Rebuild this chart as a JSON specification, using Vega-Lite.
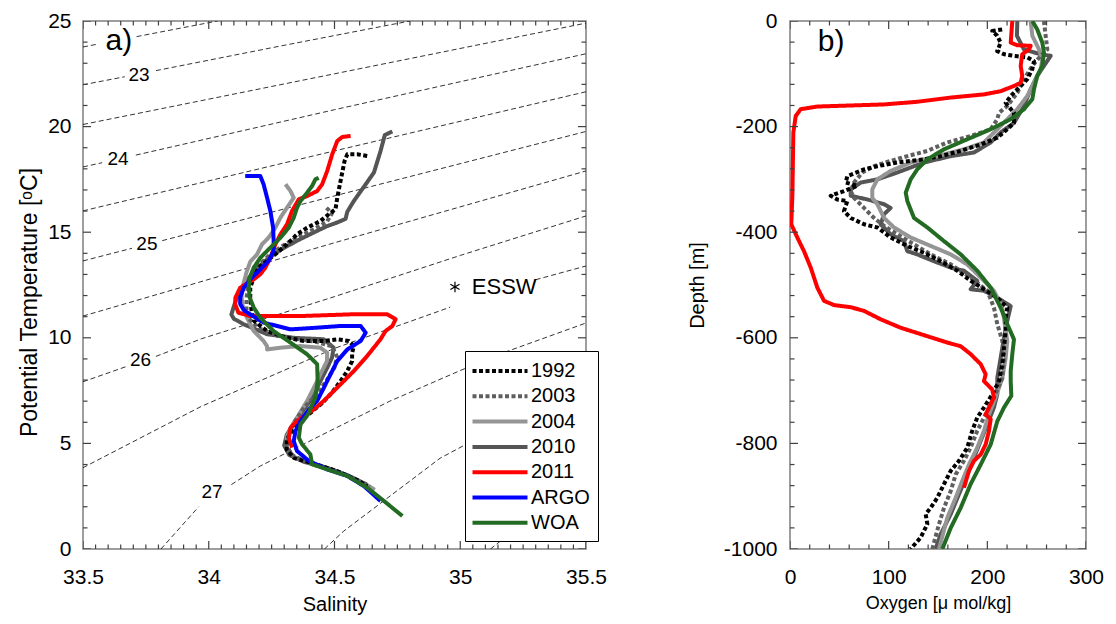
{
"$schema": "https://vega.github.io/schema/vega-lite/v6.json",
"background": "white",
"padding": {"left": 17, "top": 9, "right": 5, "bottom": 5},
"config": {
  "font": "Liberation Sans",
  "view": {"stroke": "#7f7f7f", "strokeWidth": 1.5},
  "axis": {"labelFont": "Liberation Sans", "labelFontSize": 21, "labelColor": "black", "titleFont": "Liberation Sans", "titleFontSize": 20, "titleFontWeight": "normal", "titleColor": "black", "domain": false, "grid": false, "ticks": false, "labelFlush": false, "labelOverlap": false, "labelBound": false}
},
"datasets": {
"tkS": [{"v":33.5,"k":"major"},{"v":33.55,"k":"minor"},{"v":33.6,"k":"minor"},{"v":33.65,"k":"minor"},{"v":33.7,"k":"minor"},{"v":33.75,"k":"minor"},{"v":33.8,"k":"minor"},{"v":33.85,"k":"minor"},{"v":33.9,"k":"minor"},{"v":33.95,"k":"minor"},{"v":34,"k":"major"},{"v":34.05,"k":"minor"},{"v":34.1,"k":"minor"},{"v":34.15,"k":"minor"},{"v":34.2,"k":"minor"},{"v":34.25,"k":"minor"},{"v":34.3,"k":"minor"},{"v":34.35,"k":"minor"},{"v":34.4,"k":"minor"},{"v":34.45,"k":"minor"},{"v":34.5,"k":"major"},{"v":34.55,"k":"minor"},{"v":34.6,"k":"minor"},{"v":34.65,"k":"minor"},{"v":34.7,"k":"minor"},{"v":34.75,"k":"minor"},{"v":34.8,"k":"minor"},{"v":34.85,"k":"minor"},{"v":34.9,"k":"minor"},{"v":34.95,"k":"minor"},{"v":35,"k":"major"},{"v":35.05,"k":"minor"},{"v":35.1,"k":"minor"},{"v":35.15,"k":"minor"},{"v":35.2,"k":"minor"},{"v":35.25,"k":"minor"},{"v":35.3,"k":"minor"},{"v":35.35,"k":"minor"},{"v":35.4,"k":"minor"},{"v":35.45,"k":"minor"},{"v":35.5,"k":"major"}],
"tkT": [{"v":0,"k":"major"},{"v":1,"k":"minor"},{"v":2,"k":"minor"},{"v":3,"k":"minor"},{"v":4,"k":"minor"},{"v":5,"k":"major"},{"v":6,"k":"minor"},{"v":7,"k":"minor"},{"v":8,"k":"minor"},{"v":9,"k":"minor"},{"v":10,"k":"major"},{"v":11,"k":"minor"},{"v":12,"k":"minor"},{"v":13,"k":"minor"},{"v":14,"k":"minor"},{"v":15,"k":"major"},{"v":16,"k":"minor"},{"v":17,"k":"minor"},{"v":18,"k":"minor"},{"v":19,"k":"minor"},{"v":20,"k":"major"},{"v":21,"k":"minor"},{"v":22,"k":"minor"},{"v":23,"k":"minor"},{"v":24,"k":"minor"},{"v":25,"k":"major"}],
"tkO": [{"v":0,"k":"major"},{"v":20,"k":"minor"},{"v":40,"k":"minor"},{"v":60,"k":"minor"},{"v":80,"k":"minor"},{"v":100,"k":"major"},{"v":120,"k":"minor"},{"v":140,"k":"minor"},{"v":160,"k":"minor"},{"v":180,"k":"minor"},{"v":200,"k":"major"},{"v":220,"k":"minor"},{"v":240,"k":"minor"},{"v":260,"k":"minor"},{"v":280,"k":"minor"},{"v":300,"k":"major"}],
"tkD": [{"v":-1000,"k":"major"},{"v":-960,"k":"minor"},{"v":-920,"k":"minor"},{"v":-880,"k":"minor"},{"v":-840,"k":"minor"},{"v":-800,"k":"major"},{"v":-760,"k":"minor"},{"v":-720,"k":"minor"},{"v":-680,"k":"minor"},{"v":-640,"k":"minor"},{"v":-600,"k":"major"},{"v":-560,"k":"minor"},{"v":-520,"k":"minor"},{"v":-480,"k":"minor"},{"v":-440,"k":"minor"},{"v":-400,"k":"major"},{"v":-360,"k":"minor"},{"v":-320,"k":"minor"},{"v":-280,"k":"minor"},{"v":-240,"k":"minor"},{"v":-200,"k":"major"},{"v":-160,"k":"minor"},{"v":-120,"k":"minor"},{"v":-80,"k":"minor"},{"v":-40,"k":"minor"},{"v":0,"k":"major"}],
"iso": [
{"seg":"L1a","i":1,"S":33.5,"T":23.77},{"seg":"L1a","i":2,"S":33.552,"T":23.89},
{"seg":"L1b","i":1,"S":33.713,"T":24.26},{"seg":"L1b","i":2,"S":34.035,"T":25.0},
{"seg":"L2a","i":1,"S":33.5,"T":21.98},{"seg":"L2a","i":2,"S":33.666,"T":22.36},
{"seg":"L2b","i":1,"S":33.79,"T":22.65},{"seg":"L2b","i":2,"S":34.3,"T":23.85},{"seg":"L2b","i":3,"S":34.8,"T":25.0},
{"seg":"L3","i":1,"S":33.5,"T":20.1},{"seg":"L3","i":2,"S":34.5,"T":22.5},{"seg":"L3","i":3,"S":35.5,"T":24.9},
{"seg":"L4a","i":1,"S":33.5,"T":18.09},{"seg":"L4a","i":2,"S":33.576,"T":18.29},
{"seg":"L4b","i":1,"S":33.71,"T":18.65},{"seg":"L4b","i":2,"S":34.5,"T":20.8},{"seg":"L4b","i":3,"S":35.5,"T":23.45},
{"seg":"L5","i":1,"S":33.5,"T":16.01},{"seg":"L5","i":2,"S":34.5,"T":18.85},{"seg":"L5","i":3,"S":35.5,"T":21.65},
{"seg":"L6a","i":1,"S":33.5,"T":13.64},{"seg":"L6a","i":2,"S":33.695,"T":14.24},
{"seg":"L6b","i":1,"S":33.815,"T":14.6},{"seg":"L6b","i":2,"S":34.5,"T":16.72},{"seg":"L6b","i":3,"S":35.5,"T":19.77},
{"seg":"L7","i":1,"S":33.5,"T":11.03},{"seg":"L7","i":2,"S":34.5,"T":14.5},{"seg":"L7","i":3,"S":35.5,"T":17.9},
{"seg":"L8a","i":1,"S":33.5,"T":7.92},{"seg":"L8a","i":2,"S":33.675,"T":8.65},
{"seg":"L8b","i":1,"S":33.79,"T":9.12},{"seg":"L8b","i":2,"S":33.97,"T":9.95},{"seg":"L8b","i":3,"S":34.5,"T":11.95},{"seg":"L8b","i":4,"S":35.0,"T":13.9},{"seg":"L8b","i":5,"S":35.5,"T":15.77},
{"seg":"L9a","i":1,"S":33.5,"T":3.85},{"seg":"L9a","i":2,"S":33.97,"T":6.75},{"seg":"L9a","i":3,"S":34.5,"T":9.5},{"seg":"L9a","i":4,"S":34.96,"T":11.45},
{"seg":"L9b","i":1,"S":35.3,"T":12.75},{"seg":"L9b","i":2,"S":35.5,"T":13.4},
{"seg":"L10a","i":1,"S":33.81,"T":0},{"seg":"L10a","i":2,"S":33.96,"T":2.0},
{"seg":"L10b","i":1,"S":34.09,"T":3.05},{"seg":"L10b","i":2,"S":34.205,"T":3.93},{"seg":"L10b","i":3,"S":34.5,"T":5.7},{"seg":"L10b","i":4,"S":34.72,"T":7.0},{"seg":"L10b","i":5,"S":35.0,"T":8.45},{"seg":"L10b","i":6,"S":35.15,"T":9.2},{"seg":"L10b","i":7,"S":35.5,"T":10.7},
{"seg":"L11","i":1,"S":34.46,"T":0},{"seg":"L11","i":2,"S":34.537,"T":0.85},{"seg":"L11","i":3,"S":34.92,"T":4.3},{"seg":"L11","i":4,"S":35.03,"T":5.0},{"seg":"L11","i":5,"S":35.5,"T":8.1},
{"seg":"L12","i":1,"S":35.12,"T":0},{"seg":"L12","i":2,"S":35.5,"T":3.6}
],
"tslab": [
{"t":"23","S":33.723,"T":22.44},{"t":"24","S":33.639,"T":18.48},{"t":"25","S":33.754,"T":14.45},{"t":"26","S":33.729,"T":8.93},{"t":"27","S":34.013,"T":2.7}
],
"pa": [{"t":"a)","S":33.643,"T":24.05}],
"ess": [{"t":"ESSW","S":34.979,"T":12.41,"S2":35.046}],
"pb": [{"t":"b)","O":41.6,"D":-39.8}],
"ts": [
{"n":"2010","i":1,"S":34.73,"T":19.77},{"n":"2010","i":2,"S":34.70,"T":19.6},{"n":"2010","i":3,"S":34.683,"T":18.84},{"n":"2010","i":4,"S":34.657,"T":17.83},{"n":"2010","i":5,"S":34.617,"T":17.15},{"n":"2010","i":6,"S":34.577,"T":16.48},{"n":"2010","i":7,"S":34.551,"T":15.97},{"n":"2010","i":8,"S":34.544,"T":15.63},{"n":"2010","i":9,"S":34.511,"T":15.46},{"n":"2010","i":10,"S":34.471,"T":15.29},{"n":"2010","i":11,"S":34.42,"T":15.0},{"n":"2010","i":12,"S":34.36,"T":14.65},{"n":"2010","i":13,"S":34.29,"T":14.2},{"n":"2010","i":14,"S":34.23,"T":13.7},{"n":"2010","i":15,"S":34.18,"T":13.15},{"n":"2010","i":16,"S":34.14,"T":12.55},{"n":"2010","i":17,"S":34.115,"T":12.0},{"n":"2010","i":18,"S":34.1,"T":11.5},{"n":"2010","i":19,"S":34.09,"T":11.1},{"n":"2010","i":20,"S":34.1,"T":10.9},{"n":"2010","i":21,"S":34.139,"T":10.64},{"n":"2010","i":22,"S":34.232,"T":10.17},{"n":"2010","i":23,"S":34.338,"T":10.0},{"n":"2010","i":24,"S":34.457,"T":9.93},{"n":"2010","i":25,"S":34.497,"T":9.53},{"n":"2010","i":26,"S":34.49,"T":9.06},{"n":"2010","i":27,"S":34.471,"T":8.58},{"n":"2010","i":28,"S":34.444,"T":7.95},{"n":"2010","i":29,"S":34.418,"T":7.32},{"n":"2010","i":30,"S":34.385,"T":6.7},{"n":"2010","i":31,"S":34.34,"T":6.0},{"n":"2010","i":32,"S":34.31,"T":5.4},{"n":"2010","i":33,"S":34.3,"T":4.9},{"n":"2010","i":34,"S":34.32,"T":4.45},{"n":"2010","i":35,"S":34.38,"T":4.12},{"n":"2010","i":36,"S":34.46,"T":3.87},{"n":"2010","i":37,"S":34.54,"T":3.54},{"n":"2010","i":38,"S":34.6,"T":3.15},{"n":"2010","i":39,"S":34.65,"T":2.85},
{"n":"2004","i":1,"S":34.305,"T":17.27},{"n":"2004","i":2,"S":34.325,"T":16.95},{"n":"2004","i":3,"S":34.338,"T":16.63},{"n":"2004","i":4,"S":34.311,"T":16.16},{"n":"2004","i":5,"S":34.285,"T":15.69},{"n":"2004","i":6,"S":34.265,"T":15.21},{"n":"2004","i":7,"S":34.238,"T":14.74},{"n":"2004","i":8,"S":34.212,"T":14.43},{"n":"2004","i":9,"S":34.192,"T":13.95},{"n":"2004","i":10,"S":34.165,"T":13.6},{"n":"2004","i":11,"S":34.15,"T":13.1},{"n":"2004","i":12,"S":34.139,"T":12.6},{"n":"2004","i":13,"S":34.13,"T":12.0},{"n":"2004","i":14,"S":34.135,"T":11.5},{"n":"2004","i":15,"S":34.152,"T":10.95},{"n":"2004","i":16,"S":34.179,"T":10.32},{"n":"2004","i":17,"S":34.218,"T":9.85},{"n":"2004","i":18,"S":34.232,"T":9.6},{"n":"2004","i":19,"S":34.232,"T":9.45},{"n":"2004","i":20,"S":34.285,"T":9.53},{"n":"2004","i":21,"S":34.365,"T":9.61},{"n":"2004","i":22,"S":34.444,"T":9.53},{"n":"2004","i":23,"S":34.471,"T":9.29},{"n":"2004","i":24,"S":34.47,"T":8.9},{"n":"2004","i":25,"S":34.444,"T":8.27},{"n":"2004","i":26,"S":34.418,"T":7.64},{"n":"2004","i":27,"S":34.391,"T":7.01},{"n":"2004","i":28,"S":34.36,"T":6.4},{"n":"2004","i":29,"S":34.33,"T":5.8},{"n":"2004","i":30,"S":34.31,"T":5.3},{"n":"2004","i":31,"S":34.31,"T":4.8},{"n":"2004","i":32,"S":34.34,"T":4.35},{"n":"2004","i":33,"S":34.41,"T":4.05},{"n":"2004","i":34,"S":34.48,"T":3.8},{"n":"2004","i":35,"S":34.55,"T":3.5},{"n":"2004","i":36,"S":34.62,"T":3.1},{"n":"2004","i":37,"S":34.66,"T":2.8},
{"n":"2003","i":1,"S":34.468,"T":16.15},{"n":"2003","i":2,"S":34.49,"T":15.9},{"n":"2003","i":3,"S":34.47,"T":15.5},{"n":"2003","i":4,"S":34.42,"T":15.15},{"n":"2003","i":5,"S":34.36,"T":14.8},{"n":"2003","i":6,"S":34.3,"T":14.4},{"n":"2003","i":7,"S":34.24,"T":13.9},{"n":"2003","i":8,"S":34.2,"T":13.45},{"n":"2003","i":9,"S":34.17,"T":12.95},{"n":"2003","i":10,"S":34.155,"T":12.4},{"n":"2003","i":11,"S":34.15,"T":11.85},{"n":"2003","i":12,"S":34.15,"T":11.3},{"n":"2003","i":13,"S":34.16,"T":10.9},{"n":"2003","i":14,"S":34.2,"T":10.45},{"n":"2003","i":15,"S":34.27,"T":10.1},{"n":"2003","i":16,"S":34.35,"T":9.95},{"n":"2003","i":17,"S":34.43,"T":9.8},{"n":"2003","i":18,"S":34.49,"T":9.6},{"n":"2003","i":19,"S":34.51,"T":9.1},{"n":"2003","i":20,"S":34.5,"T":8.6},{"n":"2003","i":21,"S":34.47,"T":8.0},{"n":"2003","i":22,"S":34.43,"T":7.35},{"n":"2003","i":23,"S":34.38,"T":6.7},{"n":"2003","i":24,"S":34.34,"T":6.0},{"n":"2003","i":25,"S":34.32,"T":5.4},{"n":"2003","i":26,"S":34.31,"T":4.9},{"n":"2003","i":27,"S":34.33,"T":4.45},{"n":"2003","i":28,"S":34.39,"T":4.1},{"n":"2003","i":29,"S":34.47,"T":3.85},{"n":"2003","i":30,"S":34.55,"T":3.5},{"n":"2003","i":31,"S":34.62,"T":3.1},{"n":"2003","i":32,"S":34.64,"T":2.95},
{"n":"1992","i":1,"S":34.63,"T":18.61},{"n":"1992","i":2,"S":34.59,"T":18.69},{"n":"1992","i":3,"S":34.551,"T":18.69},{"n":"1992","i":4,"S":34.54,"T":18.37},{"n":"1992","i":5,"S":34.524,"T":17.42},{"n":"1992","i":6,"S":34.511,"T":16.63},{"n":"1992","i":7,"S":34.504,"T":16.08},{"n":"1992","i":8,"S":34.477,"T":15.85},{"n":"1992","i":9,"S":34.444,"T":15.53},{"n":"1992","i":10,"S":34.391,"T":15.21},{"n":"1992","i":11,"S":34.351,"T":14.9},{"n":"1992","i":12,"S":34.311,"T":14.43},{"n":"1992","i":13,"S":34.272,"T":14.03},{"n":"1992","i":14,"S":34.232,"T":13.64},{"n":"1992","i":15,"S":34.198,"T":13.32},{"n":"1992","i":16,"S":34.179,"T":12.85},{"n":"1992","i":17,"S":34.165,"T":12.37},{"n":"1992","i":18,"S":34.165,"T":11.9},{"n":"1992","i":19,"S":34.17,"T":11.3},{"n":"1992","i":20,"S":34.18,"T":10.8},{"n":"1992","i":21,"S":34.232,"T":10.32},{"n":"1992","i":22,"S":34.311,"T":10.0},{"n":"1992","i":23,"S":34.378,"T":9.85},{"n":"1992","i":24,"S":34.457,"T":9.85},{"n":"1992","i":25,"S":34.511,"T":9.93},{"n":"1992","i":26,"S":34.557,"T":9.85},{"n":"1992","i":27,"S":34.577,"T":9.61},{"n":"1992","i":28,"S":34.57,"T":9.29},{"n":"1992","i":29,"S":34.57,"T":8.9},{"n":"1992","i":30,"S":34.551,"T":8.43},{"n":"1992","i":31,"S":34.524,"T":7.95},{"n":"1992","i":32,"S":34.49,"T":7.4},{"n":"1992","i":33,"S":34.45,"T":6.9},{"n":"1992","i":34,"S":34.39,"T":6.3},{"n":"1992","i":35,"S":34.34,"T":5.7},{"n":"1992","i":36,"S":34.31,"T":5.2},{"n":"1992","i":37,"S":34.31,"T":4.7},{"n":"1992","i":38,"S":34.34,"T":4.3},{"n":"1992","i":39,"S":34.43,"T":4.0},{"n":"1992","i":40,"S":34.51,"T":3.69},{"n":"1992","i":41,"S":34.6,"T":3.22},{"n":"1992","i":42,"S":34.63,"T":2.95},
{"n":"2011","i":1,"S":34.564,"T":19.555},{"n":"2011","i":2,"S":34.531,"T":19.51},{"n":"2011","i":3,"S":34.511,"T":19.32},{"n":"2011","i":4,"S":34.491,"T":18.69},{"n":"2011","i":5,"S":34.471,"T":17.9},{"n":"2011","i":6,"S":34.451,"T":17.27},{"n":"2011","i":7,"S":34.431,"T":16.95},{"n":"2011","i":8,"S":34.391,"T":16.71},{"n":"2011","i":9,"S":34.358,"T":16.56},{"n":"2011","i":10,"S":34.331,"T":16.0},{"n":"2011","i":11,"S":34.311,"T":15.37},{"n":"2011","i":12,"S":34.285,"T":14.9},{"n":"2011","i":13,"S":34.265,"T":14.43},{"n":"2011","i":14,"S":34.245,"T":13.79},{"n":"2011","i":15,"S":34.225,"T":13.32},{"n":"2011","i":16,"S":34.205,"T":13.01},{"n":"2011","i":17,"S":34.179,"T":12.77},{"n":"2011","i":18,"S":34.125,"T":12.37},{"n":"2011","i":19,"S":34.106,"T":11.9},{"n":"2011","i":20,"S":34.105,"T":11.59},{"n":"2011","i":21,"S":34.118,"T":11.19},{"n":"2011","i":22,"S":34.165,"T":11.03},{"n":"2011","i":23,"S":34.232,"T":11.03},{"n":"2011","i":24,"S":34.365,"T":11.03},{"n":"2011","i":25,"S":34.564,"T":11.11},{"n":"2011","i":26,"S":34.71,"T":11.11},{"n":"2011","i":27,"S":34.743,"T":10.88},{"n":"2011","i":28,"S":34.73,"T":10.56},{"n":"2011","i":29,"S":34.703,"T":10.32},{"n":"2011","i":30,"S":34.683,"T":9.93},{"n":"2011","i":31,"S":34.63,"T":9.14},{"n":"2011","i":32,"S":34.577,"T":8.43},{"n":"2011","i":33,"S":34.537,"T":7.95},{"n":"2011","i":34,"S":34.497,"T":7.48},{"n":"2011","i":35,"S":34.457,"T":7.01},{"n":"2011","i":36,"S":34.418,"T":6.61},{"n":"2011","i":37,"S":34.378,"T":6.3},{"n":"2011","i":38,"S":34.351,"T":6.06},{"n":"2011","i":39,"S":34.325,"T":5.74},{"n":"2011","i":40,"S":34.318,"T":5.27},{"n":"2011","i":41,"S":34.331,"T":4.8},
{"n":"ARGO","i":1,"S":34.145,"T":17.66},{"n":"ARGO","i":2,"S":34.205,"T":17.66},{"n":"ARGO","i":3,"S":34.218,"T":17.27},{"n":"ARGO","i":4,"S":34.232,"T":16.63},{"n":"ARGO","i":5,"S":34.245,"T":16.0},{"n":"ARGO","i":6,"S":34.256,"T":15.21},{"n":"ARGO","i":7,"S":34.258,"T":14.58},{"n":"ARGO","i":8,"S":34.258,"T":14.11},{"n":"ARGO","i":9,"S":34.238,"T":13.64},{"n":"ARGO","i":10,"S":34.205,"T":13.24},{"n":"ARGO","i":11,"S":34.172,"T":12.85},{"n":"ARGO","i":12,"S":34.139,"T":12.37},{"n":"ARGO","i":13,"S":34.125,"T":11.9},{"n":"ARGO","i":14,"S":34.125,"T":11.6},{"n":"ARGO","i":15,"S":34.14,"T":11.3},{"n":"ARGO","i":16,"S":34.165,"T":11.11},{"n":"ARGO","i":17,"S":34.218,"T":10.72},{"n":"ARGO","i":18,"S":34.325,"T":10.4},{"n":"ARGO","i":19,"S":34.431,"T":10.48},{"n":"ARGO","i":20,"S":34.524,"T":10.56},{"n":"ARGO","i":21,"S":34.604,"T":10.56},{"n":"ARGO","i":22,"S":34.624,"T":10.24},{"n":"ARGO","i":23,"S":34.604,"T":9.85},{"n":"ARGO","i":24,"S":34.551,"T":9.45},{"n":"ARGO","i":25,"S":34.511,"T":8.9},{"n":"ARGO","i":26,"S":34.484,"T":8.27},{"n":"ARGO","i":27,"S":34.458,"T":7.64},{"n":"ARGO","i":28,"S":34.431,"T":7.01},{"n":"ARGO","i":29,"S":34.398,"T":6.6},{"n":"ARGO","i":30,"S":34.365,"T":6.06},{"n":"ARGO","i":31,"S":34.345,"T":5.59},{"n":"ARGO","i":32,"S":34.338,"T":5.11},{"n":"ARGO","i":33,"S":34.351,"T":4.64},{"n":"ARGO","i":34,"S":34.398,"T":4.17},{"n":"ARGO","i":35,"S":34.471,"T":3.77},{"n":"ARGO","i":36,"S":34.551,"T":3.46},{"n":"ARGO","i":37,"S":34.617,"T":2.98},{"n":"ARGO","i":38,"S":34.683,"T":2.27},
{"n":"WOA","i":1,"S":34.437,"T":17.58},{"n":"WOA","i":2,"S":34.424,"T":17.5},{"n":"WOA","i":3,"S":34.411,"T":17.19},{"n":"WOA","i":4,"S":34.391,"T":16.87},{"n":"WOA","i":5,"S":34.365,"T":16.48},{"n":"WOA","i":6,"S":34.351,"T":16.16},{"n":"WOA","i":7,"S":34.338,"T":15.69},{"n":"WOA","i":8,"S":34.318,"T":15.21},{"n":"WOA","i":9,"S":34.285,"T":14.74},{"n":"WOA","i":10,"S":34.245,"T":14.27},{"n":"WOA","i":11,"S":34.205,"T":13.79},{"n":"WOA","i":12,"S":34.179,"T":13.32},{"n":"WOA","i":13,"S":34.163,"T":12.85},{"n":"WOA","i":14,"S":34.159,"T":12.37},{"n":"WOA","i":15,"S":34.163,"T":11.9},{"n":"WOA","i":16,"S":34.179,"T":11.43},{"n":"WOA","i":17,"S":34.205,"T":10.95},{"n":"WOA","i":18,"S":34.258,"T":10.32},{"n":"WOA","i":19,"S":34.325,"T":9.77},{"n":"WOA","i":20,"S":34.391,"T":9.22},{"n":"WOA","i":21,"S":34.431,"T":8.75},{"n":"WOA","i":22,"S":34.433,"T":7.95},{"n":"WOA","i":23,"S":34.424,"T":7.16},{"n":"WOA","i":24,"S":34.41,"T":6.8},{"n":"WOA","i":25,"S":34.395,"T":6.38},{"n":"WOA","i":26,"S":34.365,"T":5.9},{"n":"WOA","i":27,"S":34.358,"T":5.27},{"n":"WOA","i":28,"S":34.371,"T":4.96},{"n":"WOA","i":29,"S":34.404,"T":4.48},{"n":"WOA","i":30,"S":34.411,"T":4.01},{"n":"WOA","i":31,"S":34.471,"T":3.77},{"n":"WOA","i":32,"S":34.551,"T":3.46},{"n":"WOA","i":33,"S":34.63,"T":2.9},{"n":"WOA","i":34,"S":34.697,"T":2.27},{"n":"WOA","i":35,"S":34.77,"T":1.56}
],
"ox": [
{"n":"2010","i":1,"O":230.4,"D":0},{"n":"2010","i":2,"O":230,"D":-28},{"n":"2010","i":3,"O":237.2,"D":-54},{"n":"2010","i":4,"O":254.1,"D":-63},{"n":"2010","i":5,"O":264.2,"D":-66},{"n":"2010","i":6,"O":257.4,"D":-85},{"n":"2010","i":7,"O":250.6,"D":-104},{"n":"2010","i":8,"O":243.9,"D":-129},{"n":"2010","i":9,"O":237.2,"D":-161},{"n":"2010","i":10,"O":227,"D":-193},{"n":"2010","i":11,"O":213.5,"D":-211},{"n":"2010","i":12,"O":203.4,"D":-230},{"n":"2010","i":13,"O":186.5,"D":-249},{"n":"2010","i":14,"O":162.9,"D":-256},{"n":"2010","i":15,"O":135.8,"D":-268},{"n":"2010","i":16,"O":108.7,"D":-287},{"n":"2010","i":17,"O":88.5,"D":-300},{"n":"2010","i":18,"O":71.7,"D":-306},{"n":"2010","i":19,"O":61.5,"D":-319},{"n":"2010","i":20,"O":61.5,"D":-331},{"n":"2010","i":21,"O":78.4,"D":-338},{"n":"2010","i":22,"O":95.3,"D":-347},{"n":"2010","i":23,"O":102,"D":-354},{"n":"2010","i":24,"O":95.3,"D":-366},{"n":"2010","i":25,"O":91.9,"D":-385},{"n":"2010","i":26,"O":102,"D":-404},{"n":"2010","i":27,"O":115.5,"D":-417},{"n":"2010","i":28,"O":118.9,"D":-436},{"n":"2010","i":29,"O":129,"D":-442},{"n":"2010","i":30,"O":145.9,"D":-455},{"n":"2010","i":31,"O":162.9,"D":-467},{"n":"2010","i":32,"O":176.3,"D":-473},{"n":"2010","i":33,"O":189.8,"D":-492},{"n":"2010","i":34,"O":183.1,"D":-508},{"n":"2010","i":35,"O":196.6,"D":-511},{"n":"2010","i":36,"O":210.1,"D":-524},{"n":"2010","i":37,"O":223.7,"D":-540},{"n":"2010","i":38,"O":220.2,"D":-568},{"n":"2010","i":39,"O":216.9,"D":-600},{"n":"2010","i":40,"O":213.5,"D":-638},{"n":"2010","i":41,"O":210.1,"D":-676},{"n":"2010","i":42,"O":210.1,"D":-707},{"n":"2010","i":43,"O":206.7,"D":-732},{"n":"2010","i":44,"O":200,"D":-764},{"n":"2010","i":45,"O":193.3,"D":-795},{"n":"2010","i":46,"O":186.5,"D":-827},{"n":"2010","i":47,"O":179.7,"D":-859},{"n":"2010","i":48,"O":171.3,"D":-896},{"n":"2010","i":49,"O":162.9,"D":-934},{"n":"2010","i":50,"O":152.7,"D":-972},{"n":"2010","i":51,"O":147.6,"D":-1000},
{"n":"2004","i":1,"O":243.9,"D":0},{"n":"2004","i":2,"O":245.6,"D":-28},{"n":"2004","i":3,"O":252.4,"D":-54},{"n":"2004","i":4,"O":255.7,"D":-73},{"n":"2004","i":5,"O":254.1,"D":-91},{"n":"2004","i":6,"O":247.3,"D":-117},{"n":"2004","i":7,"O":240.5,"D":-142},{"n":"2004","i":8,"O":230.4,"D":-167},{"n":"2004","i":9,"O":220.2,"D":-186},{"n":"2004","i":10,"O":210.1,"D":-205},{"n":"2004","i":11,"O":196.6,"D":-230},{"n":"2004","i":12,"O":176.3,"D":-243},{"n":"2004","i":13,"O":149.3,"D":-256},{"n":"2004","i":14,"O":122.3,"D":-268},{"n":"2004","i":15,"O":102,"D":-284},{"n":"2004","i":16,"O":88.5,"D":-300},{"n":"2004","i":17,"O":83.4,"D":-319},{"n":"2004","i":18,"O":83.4,"D":-335},{"n":"2004","i":19,"O":88.5,"D":-347},{"n":"2004","i":20,"O":95.3,"D":-373},{"n":"2004","i":21,"O":105.4,"D":-391},{"n":"2004","i":22,"O":122.3,"D":-410},{"n":"2004","i":23,"O":142.6,"D":-426},{"n":"2004","i":24,"O":162.9,"D":-442},{"n":"2004","i":25,"O":179.7,"D":-461},{"n":"2004","i":26,"O":193.3,"D":-486},{"n":"2004","i":27,"O":206.7,"D":-511},{"n":"2004","i":28,"O":215.2,"D":-543},{"n":"2004","i":29,"O":220.2,"D":-606},{"n":"2004","i":30,"O":218.6,"D":-638},{"n":"2004","i":31,"O":215.2,"D":-676},{"n":"2004","i":32,"O":208.4,"D":-713},{"n":"2004","i":33,"O":201.7,"D":-745},{"n":"2004","i":34,"O":196.6,"D":-776},{"n":"2004","i":35,"O":189.8,"D":-808},{"n":"2004","i":36,"O":181.4,"D":-840},{"n":"2004","i":37,"O":174.6,"D":-871},{"n":"2004","i":38,"O":167.9,"D":-903},{"n":"2004","i":39,"O":159.4,"D":-941},{"n":"2004","i":40,"O":151,"D":-1000},
{"n":"2003","i":1,"O":257.4,"D":0},{"n":"2003","i":2,"O":259.1,"D":-28},{"n":"2003","i":3,"O":260.8,"D":-54},{"n":"2003","i":4,"O":254.1,"D":-66},{"n":"2003","i":5,"O":245.6,"D":-85},{"n":"2003","i":6,"O":237.2,"D":-110},{"n":"2003","i":7,"O":230.4,"D":-136},{"n":"2003","i":8,"O":220.2,"D":-161},{"n":"2003","i":9,"O":211.8,"D":-174},{"n":"2003","i":10,"O":210.1,"D":-186},{"n":"2003","i":11,"O":203.4,"D":-205},{"n":"2003","i":12,"O":183.1,"D":-218},{"n":"2003","i":13,"O":159.4,"D":-230},{"n":"2003","i":14,"O":139.2,"D":-246},{"n":"2003","i":15,"O":118.9,"D":-256},{"n":"2003","i":16,"O":102,"D":-265},{"n":"2003","i":17,"O":85.1,"D":-275},{"n":"2003","i":18,"O":73.3,"D":-287},{"n":"2003","i":19,"O":64.9,"D":-306},{"n":"2003","i":20,"O":61.5,"D":-322},{"n":"2003","i":21,"O":64.9,"D":-335},{"n":"2003","i":22,"O":75,"D":-354},{"n":"2003","i":23,"O":85.1,"D":-373},{"n":"2003","i":24,"O":95.3,"D":-388},{"n":"2003","i":25,"O":108.7,"D":-404},{"n":"2003","i":26,"O":125.7,"D":-423},{"n":"2003","i":27,"O":142.6,"D":-442},{"n":"2003","i":28,"O":162.9,"D":-461},{"n":"2003","i":29,"O":183.1,"D":-486},{"n":"2003","i":30,"O":200,"D":-511},{"n":"2003","i":31,"O":206.7,"D":-543},{"n":"2003","i":32,"O":210.1,"D":-574},{"n":"2003","i":33,"O":215.2,"D":-606},{"n":"2003","i":34,"O":216.9,"D":-638},{"n":"2003","i":35,"O":215.2,"D":-676},{"n":"2003","i":36,"O":206.7,"D":-713},{"n":"2003","i":37,"O":198.3,"D":-745},{"n":"2003","i":38,"O":189.8,"D":-776},{"n":"2003","i":39,"O":183.1,"D":-808},{"n":"2003","i":40,"O":176.3,"D":-833},{"n":"2003","i":41,"O":167.9,"D":-859},{"n":"2003","i":42,"O":162.9,"D":-890},{"n":"2003","i":43,"O":156.1,"D":-922},{"n":"2003","i":44,"O":151,"D":-953},{"n":"2003","i":45,"O":144.2,"D":-1000},
{"n":"1992","i":1,"O":215,"D":-16},{"n":"1992","i":2,"O":205,"D":-19},{"n":"1992","i":3,"O":210,"D":-28},{"n":"1992","i":4,"O":213.5,"D":-41},{"n":"1992","i":5,"O":210,"D":-57},{"n":"1992","i":6,"O":217,"D":-63},{"n":"1992","i":7,"O":227,"D":-66},{"n":"1992","i":8,"O":240.5,"D":-69},{"n":"1992","i":9,"O":247.3,"D":-76},{"n":"1992","i":10,"O":245.6,"D":-91},{"n":"1992","i":11,"O":240.5,"D":-110},{"n":"1992","i":12,"O":233.8,"D":-123},{"n":"1992","i":13,"O":223.7,"D":-142},{"n":"1992","i":14,"O":218.6,"D":-155},{"n":"1992","i":15,"O":227,"D":-174},{"n":"1992","i":16,"O":227,"D":-193},{"n":"1992","i":17,"O":220.2,"D":-205},{"n":"1992","i":18,"O":210.1,"D":-221},{"n":"1992","i":19,"O":193.3,"D":-234},{"n":"1992","i":20,"O":173,"D":-246},{"n":"1992","i":21,"O":152.7,"D":-256},{"n":"1992","i":22,"O":135.8,"D":-262},{"n":"1992","i":23,"O":108.7,"D":-268},{"n":"1992","i":24,"O":88.5,"D":-275},{"n":"1992","i":25,"O":75,"D":-281},{"n":"1992","i":26,"O":58.1,"D":-294},{"n":"1992","i":27,"O":56.4,"D":-306},{"n":"1992","i":28,"O":68.2,"D":-312},{"n":"1992","i":29,"O":54.7,"D":-322},{"n":"1992","i":30,"O":41.2,"D":-331},{"n":"1992","i":31,"O":47.9,"D":-338},{"n":"1992","i":32,"O":58.1,"D":-341},{"n":"1992","i":33,"O":54.7,"D":-360},{"n":"1992","i":34,"O":61.5,"D":-373},{"n":"1992","i":35,"O":75,"D":-385},{"n":"1992","i":36,"O":88.5,"D":-391},{"n":"1992","i":37,"O":102,"D":-410},{"n":"1992","i":38,"O":118.9,"D":-426},{"n":"1992","i":39,"O":135.8,"D":-439},{"n":"1992","i":40,"O":152.7,"D":-455},{"n":"1992","i":41,"O":169.6,"D":-473},{"n":"1992","i":42,"O":183.1,"D":-492},{"n":"1992","i":43,"O":196.6,"D":-508},{"n":"1992","i":44,"O":210.1,"D":-524},{"n":"1992","i":45,"O":220.2,"D":-543},{"n":"1992","i":46,"O":218.6,"D":-562},{"n":"1992","i":47,"O":218.6,"D":-587},{"n":"1992","i":48,"O":216.9,"D":-619},{"n":"1992","i":49,"O":215.2,"D":-650},{"n":"1992","i":50,"O":211.8,"D":-682},{"n":"1992","i":51,"O":205,"D":-707},{"n":"1992","i":52,"O":196.6,"D":-732},{"n":"1992","i":53,"O":189.8,"D":-751},{"n":"1992","i":54,"O":184.7,"D":-776},{"n":"1992","i":55,"O":179.7,"D":-808},{"n":"1992","i":56,"O":171.3,"D":-833},{"n":"1992","i":57,"O":162.9,"D":-852},{"n":"1992","i":58,"O":156.1,"D":-877},{"n":"1992","i":59,"O":149.3,"D":-903},{"n":"1992","i":60,"O":142.6,"D":-922},{"n":"1992","i":61,"O":137.5,"D":-934},{"n":"1992","i":62,"O":139.2,"D":-953},{"n":"1992","i":63,"O":132.5,"D":-978},{"n":"1992","i":64,"O":122.3,"D":-1000},
{"n":"2011","i":1,"O":225.3,"D":0},{"n":"2011","i":2,"O":223.7,"D":-41},{"n":"2011","i":3,"O":230.4,"D":-46},{"n":"2011","i":4,"O":243.9,"D":-47},{"n":"2011","i":5,"O":242.2,"D":-54},{"n":"2011","i":6,"O":235.4,"D":-63},{"n":"2011","i":7,"O":233.8,"D":-85},{"n":"2011","i":8,"O":235.4,"D":-104},{"n":"2011","i":9,"O":233.8,"D":-117},{"n":"2011","i":10,"O":227,"D":-123},{"n":"2011","i":11,"O":213.5,"D":-133},{"n":"2011","i":12,"O":196.6,"D":-139},{"n":"2011","i":13,"O":162.9,"D":-145},{"n":"2011","i":14,"O":129,"D":-153},{"n":"2011","i":15,"O":95.3,"D":-158},{"n":"2011","i":16,"O":61.5,"D":-160},{"n":"2011","i":17,"O":27.7,"D":-162},{"n":"2011","i":18,"O":10.8,"D":-167},{"n":"2011","i":19,"O":5.8,"D":-180},{"n":"2011","i":20,"O":3.4,"D":-211},{"n":"2011","i":21,"O":2.4,"D":-331},{"n":"2011","i":22,"O":1.3,"D":-385},{"n":"2011","i":23,"O":7.4,"D":-410},{"n":"2011","i":24,"O":14.2,"D":-436},{"n":"2011","i":25,"O":21,"D":-467},{"n":"2011","i":26,"O":27.7,"D":-505},{"n":"2011","i":27,"O":34.5,"D":-530},{"n":"2011","i":28,"O":44.6,"D":-538},{"n":"2011","i":29,"O":61.5,"D":-542},{"n":"2011","i":30,"O":75,"D":-549},{"n":"2011","i":31,"O":91.9,"D":-565},{"n":"2011","i":32,"O":112.2,"D":-581},{"n":"2011","i":33,"O":139.2,"D":-597},{"n":"2011","i":34,"O":159.4,"D":-609},{"n":"2011","i":35,"O":173,"D":-616},{"n":"2011","i":36,"O":183.1,"D":-631},{"n":"2011","i":37,"O":193.3,"D":-650},{"n":"2011","i":38,"O":198.3,"D":-669},{"n":"2011","i":39,"O":196.6,"D":-682},{"n":"2011","i":40,"O":205,"D":-698},{"n":"2011","i":41,"O":206.7,"D":-713},{"n":"2011","i":42,"O":201.7,"D":-732},{"n":"2011","i":43,"O":198.3,"D":-745},{"n":"2011","i":44,"O":203.4,"D":-754},{"n":"2011","i":45,"O":201.7,"D":-776},{"n":"2011","i":46,"O":198.3,"D":-802},{"n":"2011","i":47,"O":193.3,"D":-821},{"n":"2011","i":48,"O":186.5,"D":-833},{"n":"2011","i":49,"O":181.4,"D":-852},{"n":"2011","i":50,"O":176.3,"D":-884},
{"n":"WOA","i":1,"O":245.6,"D":0},{"n":"WOA","i":2,"O":250.6,"D":-16},{"n":"WOA","i":3,"O":255.7,"D":-41},{"n":"WOA","i":4,"O":257.4,"D":-60},{"n":"WOA","i":5,"O":255.7,"D":-85},{"n":"WOA","i":6,"O":250.6,"D":-104},{"n":"WOA","i":7,"O":247.3,"D":-129},{"n":"WOA","i":8,"O":245.6,"D":-148},{"n":"WOA","i":9,"O":237.2,"D":-167},{"n":"WOA","i":10,"O":223.7,"D":-186},{"n":"WOA","i":11,"O":203.4,"D":-205},{"n":"WOA","i":12,"O":179.7,"D":-224},{"n":"WOA","i":13,"O":156.1,"D":-243},{"n":"WOA","i":14,"O":139.2,"D":-262},{"n":"WOA","i":15,"O":129,"D":-281},{"n":"WOA","i":16,"O":122.3,"D":-300},{"n":"WOA","i":17,"O":117.3,"D":-325},{"n":"WOA","i":18,"O":118.9,"D":-341},{"n":"WOA","i":19,"O":125.7,"D":-373},{"n":"WOA","i":20,"O":139.2,"D":-391},{"n":"WOA","i":21,"O":156.1,"D":-417},{"n":"WOA","i":22,"O":173,"D":-442},{"n":"WOA","i":23,"O":189.8,"D":-473},{"n":"WOA","i":24,"O":203.4,"D":-505},{"n":"WOA","i":25,"O":213.5,"D":-543},{"n":"WOA","i":26,"O":220.2,"D":-574},{"n":"WOA","i":27,"O":227,"D":-603},{"n":"WOA","i":28,"O":225.3,"D":-631},{"n":"WOA","i":29,"O":223.7,"D":-663},{"n":"WOA","i":30,"O":223.7,"D":-682},{"n":"WOA","i":31,"O":224.3,"D":-710},{"n":"WOA","i":32,"O":216.9,"D":-732},{"n":"WOA","i":33,"O":210.1,"D":-758},{"n":"WOA","i":34,"O":203.4,"D":-802},{"n":"WOA","i":35,"O":193.3,"D":-840},{"n":"WOA","i":36,"O":183.1,"D":-877},{"n":"WOA","i":37,"O":173,"D":-922},{"n":"WOA","i":38,"O":162.9,"D":-960},{"n":"WOA","i":39,"O":154.4,"D":-1000}
]
},
"spacing": 78,
"resolve": {"scale": {"color": "independent", "strokeDash": "independent", "strokeWidth": "independent", "size": "independent"}},
"hconcat": [
{
  "width": 503, "height": 528,
  "layer": [
    {
      "data": {"name": "iso"},
      "mark": {"type": "line", "stroke": "black", "strokeWidth": 0.8, "strokeDash": [5, 3], "clip": true},
      "encoding": {
        "x": {"field": "S", "type": "quantitative", "scale": {"domain": [33.5, 35.5], "nice": false, "zero": false},
          "axis": {"orient": "bottom", "title": "Salinity", "titlePadding": 7, "format": ".2~f",
            "values": [33.5,34,34.5,35,35.5],
            "labelPadding": 17}},
        "y": {"field": "T", "type": "quantitative", "scale": {"domain": [0, 25], "nice": false, "zero": false},
          "axis": {"orient": "left", "title": "Potential Temperature [ᵒC]", "titleFontSize": 23, "titlePadding": 6, "titleY": 281, "format": "d",
            "values": [0,5,10,15,20,25],
            "labelPadding": 12}},
        "detail": {"field": "seg", "type": "nominal"},
        "order": {"field": "i", "type": "quantitative"}
      }
    },
    {
      "data": {"name": "tkS"},
      "mark": {"type": "tick", "orient": "vertical", "clip": true, "color": "#404040", "thickness": 1.2, "opacity": 1},
      "encoding": {
        "x": {"field": "v", "type": "quantitative"},
        "y": {"datum": 0, "type": "quantitative"},
        "size": {"field": "k", "type": "ordinal", "scale": {"domain": ["major","minor"], "range": [16, 9]}, "legend": null}
      }
    },
    {
      "data": {"name": "tkS"},
      "mark": {"type": "tick", "orient": "vertical", "clip": true, "color": "#404040", "thickness": 1.2, "opacity": 1},
      "encoding": {
        "x": {"field": "v", "type": "quantitative"},
        "y": {"datum": 25, "type": "quantitative"},
        "size": {"field": "k", "type": "ordinal", "scale": {"domain": ["major","minor"], "range": [16, 9]}, "legend": null}
      }
    },
    {
      "data": {"name": "tkT"},
      "mark": {"type": "tick", "orient": "horizontal", "clip": true, "color": "#404040", "thickness": 1.2, "opacity": 1},
      "encoding": {
        "y": {"field": "v", "type": "quantitative"},
        "x": {"datum": 33.5, "type": "quantitative"},
        "size": {"field": "k", "type": "ordinal", "scale": {"domain": ["major","minor"], "range": [16, 9]}, "legend": null}
      }
    },
    {
      "data": {"name": "tkT"},
      "mark": {"type": "tick", "orient": "horizontal", "clip": true, "color": "#404040", "thickness": 1.2, "opacity": 1},
      "encoding": {
        "y": {"field": "v", "type": "quantitative"},
        "x": {"datum": 35.5, "type": "quantitative"},
        "size": {"field": "k", "type": "ordinal", "scale": {"domain": ["major","minor"], "range": [16, 9]}, "legend": null}
      }
    },
    {
      "data": {"name": "ts"},
      "mark": {"type": "line", "clip": true, "strokeJoin": "round"},
      "encoding": {
        "x": {"field": "S", "type": "quantitative"},
        "y": {"field": "T", "type": "quantitative"},
        "color": {"field": "n", "type": "nominal",
          "scale": {"domain": ["1992","2003","2004","2010","2011","ARGO","WOA"], "range": ["#000000","#5f5f5f","#959595","#555555","#ff0000","#0000ff","#236b23"]},
          "legend": {"title": null, "orient": "none", "legendX": 382, "legendY": 330, "symbolType": "M-2.75,0H2.75", "symbolSize": 400, "labelFontSize": 20, "labelFont": "Liberation Sans", "labelColor": "black", "strokeColor": "black", "fillColor": "white", "padding": 8, "rowPadding": 3.3, "symbolOffset": 15, "labelOffset": 19}},
        "strokeDash": {"field": "n", "type": "nominal",
          "scale": {"domain": ["1992","2003","2004","2010","2011","ARGO","WOA"], "range": [[4,2.5],[4,2.5],[1,0],[1,0],[1,0],[1,0],[1,0]]},
          "legend": {"title": null, "orient": "none", "legendX": 382, "legendY": 330, "symbolType": "M-2.75,0H2.75", "symbolSize": 400, "labelFontSize": 20, "labelFont": "Liberation Sans", "labelColor": "black", "strokeColor": "black", "fillColor": "white", "padding": 8, "rowPadding": 3.3, "symbolOffset": 15, "labelOffset": 19}},
        "strokeWidth": {"field": "n", "type": "nominal",
          "scale": {"domain": ["1992","2003","2004","2010","2011","ARGO","WOA"], "range": [4,4,4,4,3.5,2.5,3.5]},
          "legend": {"title": null, "orient": "none", "legendX": 382, "legendY": 330, "symbolType": "M-2.75,0H2.75", "symbolSize": 400, "labelFontSize": 20, "labelFont": "Liberation Sans", "labelColor": "black", "strokeColor": "black", "fillColor": "white", "padding": 8, "rowPadding": 3.3, "symbolOffset": 15, "labelOffset": 19}},
        "order": {"field": "i", "type": "quantitative"}
      }
    },
    {
      "data": {"name": "tslab"},
      "mark": {"type": "text", "fontSize": 19, "font": "Liberation Sans", "color": "black"},
      "encoding": {
        "x": {"field": "S", "type": "quantitative"},
        "y": {"field": "T", "type": "quantitative"},
        "text": {"field": "t"}
      }
    },
    {
      "data": {"name": "pa"},
      "mark": {"type": "text", "fontSize": 30, "font": "Liberation Sans", "color": "black"},
      "encoding": {
        "x": {"field": "S", "type": "quantitative"},
        "y": {"field": "T", "type": "quantitative"},
        "text": {"field": "t"}
      }
    },
    {
      "data": {"name": "ess"},
      "mark": {"type": "point", "shape": "M0,-1L0,1M-0.87,-0.5L0.87,0.5M-0.87,0.5L0.87,-0.5", "size": 110, "stroke": "black", "strokeWidth": 1.2, "filled": false, "opacity": 1},
      "encoding": {
        "x": {"field": "S", "type": "quantitative"},
        "y": {"field": "T", "type": "quantitative"}
      }
    },
    {
      "data": {"name": "ess"},
      "mark": {"type": "text", "fontSize": 22, "font": "Liberation Sans", "color": "black", "align": "left"},
      "encoding": {
        "x": {"field": "S2", "type": "quantitative"},
        "y": {"field": "T", "type": "quantitative"},
        "text": {"field": "t"}
      }
    }
  ]
},
{
  "width": 296, "height": 528,
  "layer": [
    {
      "data": {"name": "ox"},
      "mark": {"type": "line", "clip": true, "strokeJoin": "round"},
      "encoding": {
        "x": {"field": "O", "type": "quantitative", "scale": {"domain": [0, 300], "nice": false, "zero": false},
          "axis": {"orient": "bottom", "title": "Oxygen [μ mol/kg]", "titleFontSize": 18, "titlePadding": 7, "format": "d",
            "values": [0,100,200,300],
            "labelPadding": 17}},
        "y": {"field": "D", "type": "quantitative", "scale": {"domain": [-1000, 0], "nice": false, "zero": false},
          "axis": {"orient": "left", "title": "Depth [m]", "titlePadding": 16, "format": "d",
            "values": [-1000,-800,-600,-400,-200,0],
            "labelExpr": "replace(datum.label, '−', '-')",
            "labelPadding": 13}},
        "color": {"field": "n", "type": "nominal",
          "scale": {"domain": ["1992","2003","2004","2010","2011","ARGO","WOA"], "range": ["#000000","#5f5f5f","#959595","#555555","#ff0000","#0000ff","#236b23"]}, "legend": null},
        "strokeDash": {"field": "n", "type": "nominal",
          "scale": {"domain": ["1992","2003","2004","2010","2011","ARGO","WOA"], "range": [[4,2.5],[4,2.5],[1,0],[1,0],[1,0],[1,0],[1,0]]}, "legend": null},
        "strokeWidth": {"field": "n", "type": "nominal",
          "scale": {"domain": ["1992","2003","2004","2010","2011","ARGO","WOA"], "range": [4,4,4,4,3.5,2.5,3.5]}, "legend": null},
        "order": {"field": "i", "type": "quantitative"}
      }
    },
    {
      "data": {"name": "tkO"},
      "mark": {"type": "tick", "orient": "vertical", "clip": true, "color": "#404040", "thickness": 1.2, "opacity": 1},
      "encoding": {
        "x": {"field": "v", "type": "quantitative"},
        "y": {"datum": -1000, "type": "quantitative"},
        "size": {"field": "k", "type": "ordinal", "scale": {"domain": ["major","minor"], "range": [16, 9]}, "legend": null}
      }
    },
    {
      "data": {"name": "tkO"},
      "mark": {"type": "tick", "orient": "vertical", "clip": true, "color": "#404040", "thickness": 1.2, "opacity": 1},
      "encoding": {
        "x": {"field": "v", "type": "quantitative"},
        "y": {"datum": 0, "type": "quantitative"},
        "size": {"field": "k", "type": "ordinal", "scale": {"domain": ["major","minor"], "range": [16, 9]}, "legend": null}
      }
    },
    {
      "data": {"name": "tkD"},
      "mark": {"type": "tick", "orient": "horizontal", "clip": true, "color": "#404040", "thickness": 1.2, "opacity": 1},
      "encoding": {
        "y": {"field": "v", "type": "quantitative"},
        "x": {"datum": 0, "type": "quantitative"},
        "size": {"field": "k", "type": "ordinal", "scale": {"domain": ["major","minor"], "range": [16, 9]}, "legend": null}
      }
    },
    {
      "data": {"name": "tkD"},
      "mark": {"type": "tick", "orient": "horizontal", "clip": true, "color": "#404040", "thickness": 1.2, "opacity": 1},
      "encoding": {
        "y": {"field": "v", "type": "quantitative"},
        "x": {"datum": 300, "type": "quantitative"},
        "size": {"field": "k", "type": "ordinal", "scale": {"domain": ["major","minor"], "range": [16, 9]}, "legend": null}
      }
    },
    {
      "data": {"name": "pb"},
      "mark": {"type": "text", "fontSize": 30, "font": "Liberation Sans", "color": "black"},
      "encoding": {
        "x": {"field": "O", "type": "quantitative"},
        "y": {"field": "D", "type": "quantitative"},
        "text": {"field": "t"}
      }
    }
  ]
}
]
}
